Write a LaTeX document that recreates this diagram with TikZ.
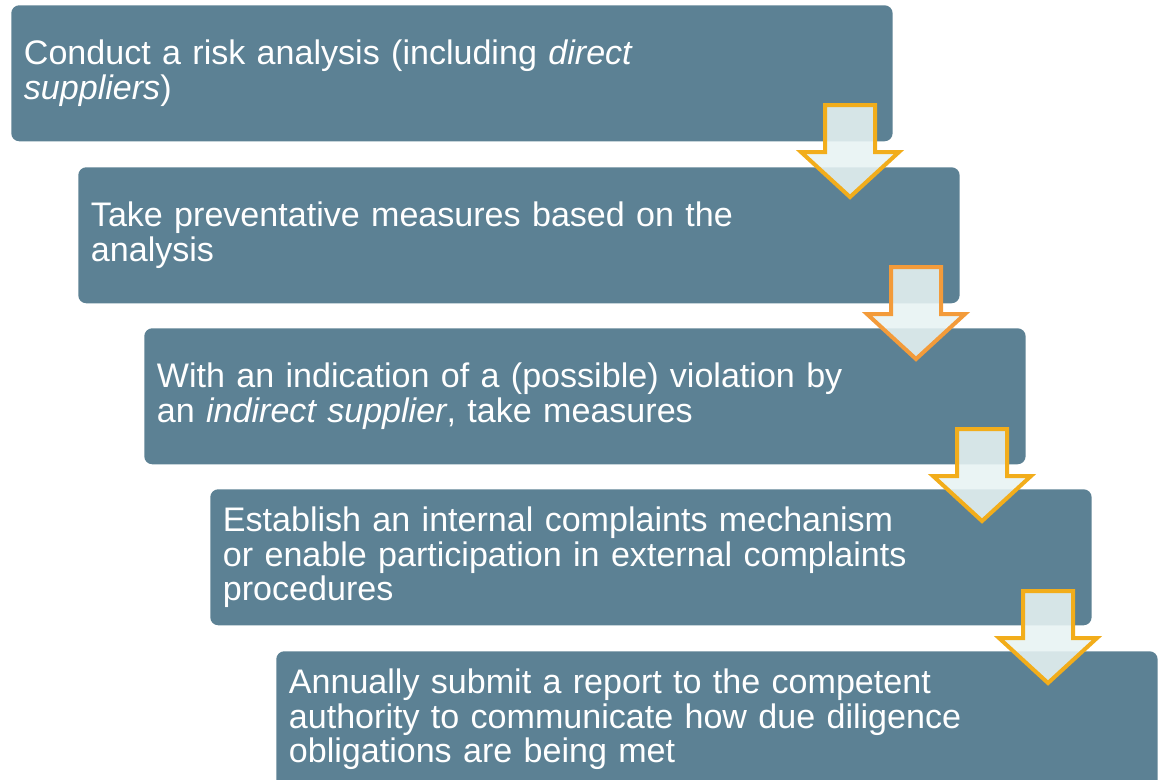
\documentclass[tikz,border=0pt]{standalone}
\usepackage{fontspec}
\setmainfont{Liberation Sans}
\usetikzlibrary{positioning}
\definecolor{boxblue}{HTML}{5C8194}
\definecolor{arrowgold}{HTML}{F2AD1B}
\definecolor{arroworange}{HTML}{F39B3A}
\definecolor{arrowfill}{HTML}{E7F3F3}
\tikzset{stepbox/.style={draw=none, fill=boxblue, rounded corners=6pt, text=white, anchor=north west,
  minimum height=102pt, text width=642pt, inner xsep=9.5pt, align=left,
  font=\fontsize{25.55}{25.9}\selectfont}}
\tikzset{downarrow/.style={line width=3pt, fill=arrowfill, fill opacity=0.88, line join=miter}}
\newcommand{\stepArrow}[3]{%
  \draw[downarrow, draw=#3] (#1-25,#2+2) -- (#1+25,#2+2) -- (#1+25,#2+49) -- (#1+49,#2+49)
    -- (#1,#2+94) -- (#1-49,#2+49) -- (#1-25,#2+49) -- cycle;}

\begin{document}
\begin{tikzpicture}[x=0.75pt, y=-0.75pt]
                \useasboundingbox (0,0) rectangle (1160,779);
                \clip (0,0) rectangle (1160,779);

                \node[stepbox] (risk) at (11,5) {Conduct a risk analysis (including \textit{direct}\\\textit{suppliers})};
                \node[stepbox] (prevent) at (78,167) {Take preventative measures based on the\\analysis};
                \node[stepbox] (indirect) at (144,328) {With an indication of a (possible) violation by\\an \textit{indirect supplier}, take measures};
                \node[stepbox] (complaints) at (210,489) {Establish an internal complaints mechanism\\or enable participation in external complaints\\procedures};
                \node[stepbox] (report) at (276,651) {Annually submit a report to the competent\\authority to communicate how due diligence\\obligations are being met};

                % arrows between the steps
                \stepArrow{850}{103}{arrowgold}
                \stepArrow{916}{265}{arroworange}
                \stepArrow{982}{427}{arrowgold}
                \stepArrow{1048}{589}{arrowgold}
            \end{tikzpicture}
\end{document}
